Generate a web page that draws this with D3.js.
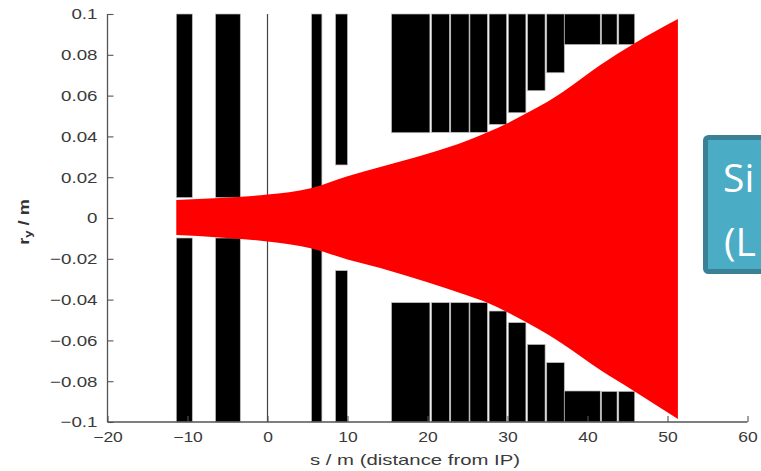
<!DOCTYPE html>
<html>
<head>
<meta charset="utf-8">
<script src="https://cdn.jsdelivr.net/npm/d3@7"></script>
<style>
  html, body { margin: 0; padding: 0; background: #fff; }
  svg { display: block; }
</style>
</head>
<body>
<svg id="chart" width="761" height="471"></svg>
<script>
// ---- data ----
const xTicks = [-20, -10, 0, 10, 20, 30, 40, 50, 60];
const yTicks = [-0.1, -0.08, -0.06, -0.04, -0.02, 0, 0.02, 0.04, 0.06, 0.08, 0.1];

// magnet elements: longitudinal extent and inner aperture (upper / lower)
const magnetStart  = [-11.4, -6.5, 5.5, 8.5, 15.5, 20.5, 22.9, 25.3, 27.7, 30.1, 32.5, 34.9, 37.1, 41.75, 43.9];
const magnetEnd    = [-9.4, -3.4, 6.8, 10.0, 20.3, 22.75, 25.2, 27.5, 29.9, 32.3, 34.7, 37.1, 41.6, 43.7, 45.9];
const apertureTop  = [0.010, 0.010, 0.013, 0.026, 0.0418, 0.042, 0.042, 0.042, 0.0459, 0.0516, 0.0624, 0.0712, 0.085, 0.085, 0.085];
const apertureBot  = [-0.0098, -0.0098, -0.013, -0.0258, -0.0415, -0.0415, -0.0415, -0.0415, -0.0456, -0.0513, -0.062, -0.0709, -0.0848, -0.085, -0.085];

// beam envelope
const beamS      = [-11.4, -6, 0, 5.4, 10, 14.1, 20, 25, 27.5, 30, 32.3, 35, 37, 41.6, 45.9, 51.3];
const beamTop    = [0.0088, 0.0098, 0.0115, 0.0146, 0.0205, 0.0250, 0.0315, 0.0380, 0.0420, 0.0465, 0.0512, 0.0570, 0.0620, 0.0750, 0.0857, 0.0975];
const beamBottom = [-0.0083, -0.0095, -0.0115, -0.0148, -0.0203, -0.0245, -0.0315, -0.0380, -0.0415, -0.0462, -0.0510, -0.0570, -0.0620, -0.0745, -0.0850, -0.0985];

const ipPosition = [0];

// ---- drawing ----
const svg = d3.select("#chart");
const x = d3.scaleLinear().domain([-20, 60]).range([107.5, 747.5]);
const y = d3.scaleLinear().domain([-0.1, 0.1]).range([422, 14]);

// magnets
const magnets = magnetStart.map((s, i) => ({ s0: s, s1: magnetEnd[i], top: apertureTop[i], bot: apertureBot[i] }));
const mg = svg.append("g");
magnets.forEach(m => {
  mg.append("rect")
    .attr("x", x(m.s0)).attr("width", x(m.s1) - x(m.s0))
    .attr("y", y(0.1)).attr("height", y(m.top) - y(0.1))
    .attr("fill", "#000").attr("stroke", "#bdbdbd").attr("stroke-width", 0.7);
  mg.append("rect")
    .attr("x", x(m.s0)).attr("width", x(m.s1) - x(m.s0))
    .attr("y", y(m.bot)).attr("height", y(-0.1) - y(m.bot))
    .attr("fill", "#000").attr("stroke", "#bdbdbd").attr("stroke-width", 0.7);
});

// IP line
svg.selectAll(".ip").data(ipPosition).enter().append("line")
  .attr("x1", d => x(d)).attr("x2", d => x(d))
  .attr("y1", y(0.1)).attr("y2", y(-0.1))
  .attr("stroke", "#444").attr("stroke-width", 1.2);

// beam envelope
const beam = beamS.map((s, i) => ({ s, t: beamTop[i], b: beamBottom[i] }));
const area = d3.area().x(d => x(d.s)).y0(d => y(d.b)).y1(d => y(d.t)).curve(d3.curveMonotoneX);
svg.append("path").datum(beam).attr("d", area).attr("fill", "#ff0000");

// axes
const fmt = d => d === 0 ? "0" : (d < 0 ? "\u2212" : "") + String(+Math.abs(d).toFixed(2));
const stretch = 1.25;

const gy = svg.append("g").attr("transform", `translate(${x(-20)},0)`)
  .call(d3.axisLeft(y).tickValues(yTicks).tickFormat(fmt).tickSize(-6).tickPadding(10).tickSizeOuter(0));
const gx = svg.append("g").attr("transform", `translate(0,${y(-0.1)})`)
  .call(d3.axisBottom(x).tickValues(xTicks).tickFormat(fmt).tickSize(-6).tickPadding(10).tickSizeOuter(0));

[gy, gx].forEach(g => {
  g.select(".domain").attr("stroke", "#555").attr("stroke-width", 1.3);
  g.selectAll(".tick line").attr("stroke", "#555").attr("stroke-width", 1.1);
  g.selectAll(".tick text")
    .attr("fill", "#3a3a3a")
    .style("font-family", "'Liberation Sans', Arial, sans-serif")
    .each(function() {
      const t = d3.select(this);
      const xx = +t.attr("x") || 0;
      const yy = +t.attr("y") || 0;
      t.attr("x", 0).attr("y", 0)
       .attr("transform", `translate(${xx},${yy}) scale(${stretch},1)`);
    });
});
gy.selectAll(".tick text").style("font-size", "15px");
gx.selectAll(".tick text").style("font-size", "14px");
gy.select(".domain").attr("d", `M0,${y(0.1)}V${y(-0.1)}`);
gx.select(".domain").attr("d", `M${x(-20)},0H${x(60)}`);

// axis labels
svg.append("text")
  .attr("x", 415).attr("y", 465)
  .attr("text-anchor", "middle")
  .attr("textLength", 210).attr("lengthAdjust", "spacingAndGlyphs")
  .style("font-family", "'Liberation Sans', Arial, sans-serif")
  .style("font-size", "14.5px").attr("fill", "#3a3a3a")
  .text("s / m (distance from IP)");

const yl = svg.append("text")
  .attr("transform", `translate(29,222) rotate(-90) scale(1.3,1)`)
  .attr("text-anchor", "middle")
  .style("font-family", "'Liberation Sans', Arial, sans-serif")
  .style("font-size", "14px").style("font-weight", "bold").attr("fill", "#333");
yl.append("tspan").text("r");
yl.append("tspan").attr("dy", 3).style("font-size", "10px").text("y");
yl.append("tspan").attr("dy", -3).text(" / m");

// callout box (cropped)
svg.append("rect")
  .attr("x", 705.5).attr("y", 137.5).attr("width", 90).attr("height", 134)
  .attr("rx", 3).attr("fill", "#4bacc6").attr("stroke", "#3a8196").attr("stroke-width", 5);
const bt = svg.append("text").attr("fill", "#fff")
  .style("font-family", "'Open Sans', 'Noto Sans', sans-serif").style("font-size", "39px");
bt.append("tspan").attr("x", 723).attr("y", 192).text("Si");
bt.append("tspan").attr("x", 724).attr("y", 256).text("(L");
</script>
</body>
</html>
